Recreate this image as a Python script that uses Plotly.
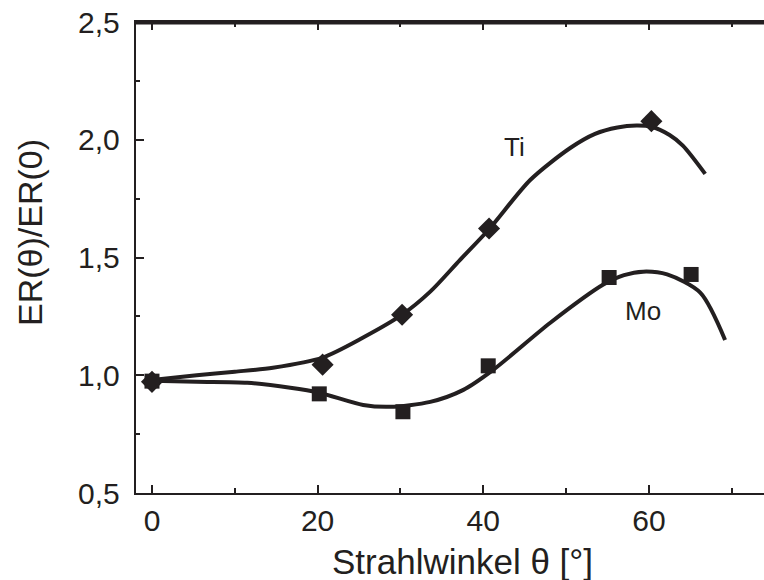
import plotly.graph_objects as go

# Measured data points
ti_x = [0, 20.6, 30.2, 40.7, 60.3]
ti_y = [0.972, 1.045, 1.257, 1.623, 2.079]
mo_x = [0, 20.2, 30.3, 40.6, 55.2, 65.1]
mo_y = [0.975, 0.921, 0.845, 1.040, 1.415, 1.428]

# Fitted curves
ti_fit_x = [0, 5.4, 10, 14.6, 20.6, 25.5, 30.2, 33.6, 37.2, 40.7, 45.7, 50.5, 53.5, 56.2, 58.5, 60.3, 62.5, 64.1, 66.8]
ti_fit_y = [0.98, 1.0, 1.015, 1.032, 1.075, 1.16, 1.257, 1.355, 1.49, 1.62, 1.83, 1.965, 2.025, 2.052, 2.06, 2.055, 2.02, 1.975, 1.855]
mo_fit_x = [0, 5.4, 11.5, 16.7, 20.2, 25.5, 28.7, 33.6, 37.6, 41.2, 48.1, 54.5, 57.0, 59.3, 62.2, 66.2, 69.2]
mo_fit_y = [0.977, 0.972, 0.968, 0.947, 0.926, 0.874, 0.866, 0.887, 0.938, 1.023, 1.223, 1.385, 1.425, 1.44, 1.428, 1.351, 1.15]

# tick layout: x majors every 20 (minor 10), y majors every 0.5 (minor 0.25), decimal comma
x_tick_step = 20
y_tick_step = 0.5

INK = "#231f20"
FONT = "Liberation Sans, Arial, Helvetica, sans-serif"
X_RANGE = [-1.93, 73.9]
Y_RANGE = [0.5, 2.5]

fig = go.Figure()
for fx, fy in [(ti_fit_x, ti_fit_y), (mo_fit_x, mo_fit_y)]:
    fig.add_trace(go.Scatter(x=fx, y=fy, mode="lines",
                             line=dict(color=INK, width=4, shape="spline", smoothing=0.8),
                             showlegend=False, hoverinfo="skip"))
fig.add_trace(go.Scatter(x=ti_x, y=ti_y, mode="markers", name="Ti",
                         marker=dict(symbol="diamond", size=17, color=INK), showlegend=False))
fig.add_trace(go.Scatter(x=mo_x, y=mo_y, mode="markers", name="Mo",
                         marker=dict(symbol="square", size=15, color=INK), showlegend=False))

fig.add_annotation(x=43.8, y=1.97, text="Ti", showarrow=False, font=dict(size=26, color=INK, family=FONT))
fig.add_annotation(x=59.3, y=1.274, text="Mo", showarrow=False, font=dict(size=26, color=INK, family=FONT))

# axis titles
fig.add_annotation(xref="paper", yref="paper", x=0.52, y=-0.1, yanchor="top",
                   text="Strahlwinkel θ [°]", showarrow=False, font=dict(size=35, color=INK, family=FONT))
fig.add_annotation(xref="paper", yref="paper", x=-0.169, y=0.554, xanchor="center", yanchor="middle",
                   textangle=-90, text="ER(θ)/ER(0)", showarrow=False,
                   font=dict(size=34, color=INK, family=FONT))

# frame line along the top of the plot area (drawn slightly inside so it cannot be clipped)
fig.add_shape(type="line", xref="paper", yref="paper", x0=0, x1=1, y0=0.998, y1=0.998,
              line=dict(color=INK, width=3), layer="above")

fig.update_layout(
    width=764, height=580,
    margin=dict(l=136, r=0, t=22, b=87),
    paper_bgcolor="white", plot_bgcolor="rgba(0,0,0,0)",
    separators=",.",
    font=dict(family=FONT, color=INK, size=30),
    xaxis=dict(range=X_RANGE, tickmode="linear", tick0=0, dtick=x_tick_step,
               ticks="inside", ticklen=8, tickwidth=2, tickcolor=INK,
               minor=dict(tickmode="linear", tick0=0, dtick=x_tick_step / 2, ticks="inside",
                          ticklen=5, tickwidth=2, tickcolor=INK),
               showline=True, mirror="ticks", linewidth=2, linecolor=INK, showgrid=False, zeroline=False,
               tickfont=dict(size=30)),
    yaxis=dict(range=Y_RANGE, tickmode="linear", tick0=0.5, dtick=y_tick_step, tickformat=".1f",
               ticksuffix="\u00a0",
               ticks="inside", ticklen=8, tickwidth=2, tickcolor=INK,
               minor=dict(tickmode="linear", tick0=0.5, dtick=y_tick_step / 2, ticks="inside",
                          ticklen=4, tickwidth=2, tickcolor=INK),
               showline=True, linewidth=2, linecolor=INK, showgrid=False, zeroline=False,
               tickfont=dict(size=30)),
)

fig.write_html("out.html", config={"displayModeBar": False},
               post_script="document.body.style.margin='0px';")
